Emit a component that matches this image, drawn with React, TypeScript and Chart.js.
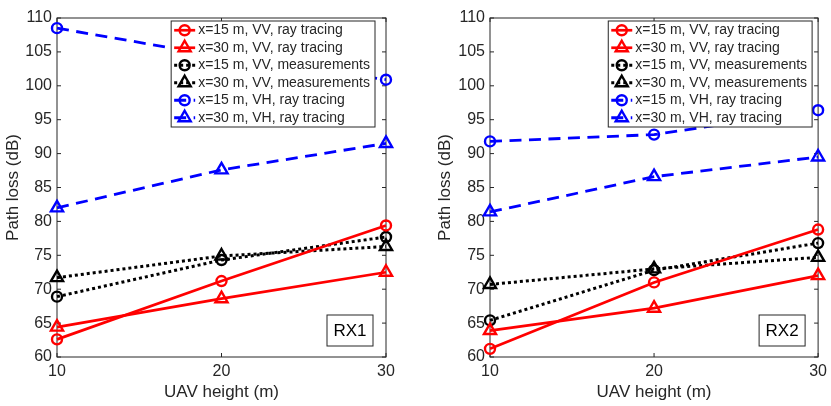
import React, { useEffect, useRef } from 'react';
import { Chart, registerables } from 'chart.js';

Chart.register(...registerables);

// UAV heights (m)
const heights = [10, 20, 30];

const seriesLabels = [
  'x=15 m, VV, ray tracing',
  'x=30 m, VV, ray tracing',
  'x=15 m, VV, measurements',
  'x=30 m, VV, measurements',
  'x=15 m, VH, ray tracing',
  'x=30 m, VH, ray tracing',
];

// RX1 path loss (dB)
const rx1Vv15Rt = [62.6, 71.2, 79.4];
const rx1Vv30Rt = [64.4, 68.6, 72.5];
const rx1Vv15Meas = [68.9, 74.3, 77.7];
const rx1Vv30Meas = [71.7, 74.9, 76.3];
const rx1Vh15Rt = [108.5, 104.3, 100.9];
const rx1Vh30Rt = [82.0, 87.6, 91.5];

// RX2 path loss (dB)
const rx2Vv15Rt = [61.2, 71.0, 78.8];
const rx2Vv30Rt = [63.9, 67.2, 72.0];
const rx2Vv15Meas = [65.4, 72.8, 76.8];
const rx2Vv30Meas = [70.7, 73.0, 74.7];
const rx2Vh15Rt = [91.8, 92.8, 96.4];
const rx2Vh30Rt = [81.4, 86.6, 89.5];

const styles = [
  { color: '#ff0000', dash: [] as number[], width: 2.7, shape: 'circle' },
  { color: '#ff0000', dash: [] as number[], width: 2.7, shape: 'triangle' },
  { color: '#000000', dash: [3, 3], width: 3, shape: 'circle' },
  { color: '#000000', dash: [3, 3], width: 3, shape: 'triangle' },
  { color: '#0000ff', dash: [12, 7.5], width: 2.8, shape: 'circle' },
  { color: '#0000ff', dash: [12, 7.5], width: 2.8, shape: 'triangle' },
];

const FONT = '"Liberation Sans", Arial, Helvetica, sans-serif';
const AXIS = '#262626';
const CIRCLE_R = 5;
const TRI_R = 7;

function drawMarker(ctx: CanvasRenderingContext2D, shape: string, x: number, y: number) {
  ctx.beginPath();
  if (shape === 'circle') {
    ctx.arc(x, y, CIRCLE_R, 0, Math.PI * 2);
  } else {
    const r = TRI_R;
    ctx.moveTo(x, y - r);
    ctx.lineTo(x + r * Math.sin((2 * Math.PI) / 3), y + r / 2);
    ctx.lineTo(x - r * Math.sin((2 * Math.PI) / 3), y + r / 2);
    ctx.closePath();
  }
  ctx.stroke();
}

function Panel({ values, tag, padLeft, yWidth, padRight, legendRight }: any) {
  const canvasRef = useRef<HTMLCanvasElement | null>(null);

  useEffect(() => {
    if (!canvasRef.current) return;

    const framePlugin = {
      id: 'frame',
      beforeDatasetsDraw(chart: any) {
        const { ctx, chartArea: a, scales } = chart;
        ctx.save();
        ctx.strokeStyle = AXIS;
        ctx.lineWidth = 1;
        ctx.strokeRect(a.left, a.top, a.right - a.left, a.bottom - a.top);
        const tl = 4;
        ctx.beginPath();
        scales.x.ticks.forEach((t: any) => {
          const px = scales.x.getPixelForValue(t.value);
          ctx.moveTo(px, a.bottom);
          ctx.lineTo(px, a.bottom - tl);
          ctx.moveTo(px, a.top);
          ctx.lineTo(px, a.top + tl);
        });
        scales.y.ticks.forEach((t: any) => {
          const py = scales.y.getPixelForValue(t.value);
          ctx.moveTo(a.left, py);
          ctx.lineTo(a.left + tl, py);
          ctx.moveTo(a.right, py);
          ctx.lineTo(a.right - tl, py);
        });
        ctx.stroke();
        ctx.restore();
      },
    };

    const legendPlugin = {
      id: 'legendBox',
      afterDatasetsDraw(chart: any) {
        const { ctx, chartArea: a } = chart;
        ctx.save();
        ctx.font = `14px ${FONT}`;
        const textW = Math.max(...seriesLabels.map((l) => ctx.measureText(l).width));
        const rowH = 17.5;
        const boxW = 27 + textW + 5;
        const boxH = rowH * seriesLabels.length + 1;
        const left = a.right - legendRight - boxW;
        const top = a.top + 3;
        ctx.fillStyle = '#ffffff';
        ctx.fillRect(left, top, boxW, boxH);
        ctx.strokeStyle = AXIS;
        ctx.lineWidth = 1;
        ctx.strokeRect(left, top, boxW, boxH);
        seriesLabels.forEach((label, i) => {
          const s = styles[i];
          const cy = top + rowH * i + rowH / 2 + 0.5;
          ctx.strokeStyle = s.color;
          ctx.lineWidth = s.width;
          ctx.setLineDash(s.dash);
          ctx.beginPath();
          ctx.moveTo(left + 3, cy);
          ctx.lineTo(left + 24, cy);
          ctx.stroke();
          ctx.setLineDash([]);
          ctx.lineWidth = 2.4;
          drawMarker(ctx, s.shape, left + 13.5, cy);
          ctx.fillStyle = AXIS;
          ctx.textBaseline = 'middle';
          ctx.textAlign = 'left';
          ctx.fillText(label, left + 27, cy);
        });
        // RX tag box
        ctx.font = `17px ${FONT}`;
        const tw = 46;
        const th = 31;
        const tx = a.right - 13 - tw;
        const ty = a.bottom - 11 - th;
        ctx.fillStyle = '#ffffff';
        ctx.fillRect(tx, ty, tw, th);
        ctx.strokeStyle = AXIS;
        ctx.lineWidth = 1;
        ctx.strokeRect(tx, ty, tw, th);
        ctx.fillStyle = '#000000';
        ctx.textAlign = 'center';
        ctx.textBaseline = 'middle';
        ctx.fillText(tag, tx + tw / 2, ty + th / 2 + 1);
        ctx.restore();
      },
    };

    const chart = new Chart(canvasRef.current, {
      type: 'line',
      data: {
        datasets: values.map((v: number[], i: number) => ({
          label: seriesLabels[i],
          data: heights.map((h, j) => ({ x: h, y: v[j] })),
          borderColor: styles[i].color,
          borderWidth: styles[i].width,
          borderDash: styles[i].dash,
          pointStyle: styles[i].shape,
          pointRadius: styles[i].shape === 'circle' ? CIRCLE_R : TRI_R,
          pointBorderWidth: 2.4,
          pointBorderColor: styles[i].color,
          pointBackgroundColor: 'rgba(0,0,0,0)',
          tension: 0,
          fill: false,
          clip: false as any,
        })),
      },
      options: {
        responsive: false,
        animation: false,
        devicePixelRatio: 1,
        layout: { padding: { left: padLeft, right: padRight, top: 18, bottom: 0 } },
        plugins: { legend: { display: false }, tooltip: { enabled: false } },
        scales: {
          x: {
            type: 'linear',
            min: 10,
            max: 30,
            grid: { display: false, drawTicks: false },
            border: { display: false },
            ticks: { stepSize: 10, padding: 5, color: AXIS, font: { family: FONT, size: 16 } },
            title: {
              display: true,
              text: 'UAV height (m)',
              color: AXIS,
              font: { family: FONT, size: 17 },
              padding: { top: 0, bottom: 3 },
            },
            afterFit: (s: any) => {
              s.height = 49;
            },
          },
          y: {
            min: 60,
            max: 110,
            grid: { display: false, drawTicks: false },
            border: { display: false },
            ticks: { stepSize: 5, padding: 5, color: AXIS, font: { family: FONT, size: 16 } },
            title: {
              display: true,
              text: 'Path loss (dB)',
              color: AXIS,
              font: { family: FONT, size: 17 },
              padding: { top: 3, bottom: 0 },
            },
            afterFit: (s: any) => {
              s.width = yWidth;
            },
          },
        },
      },
      plugins: [framePlugin, legendPlugin],
    });

    return () => chart.destroy();
  }, []);

  return <canvas ref={canvasRef} width={padLeft + yWidth + 329 + padRight} height={406} style={{ display: 'block' }} />;
}

export default function App() {
  return (
    <div style={{ position: 'absolute', left: 0, top: 0, width: 831, height: 406, display: 'flex', background: '#fff' }}>
      <Panel
        values={[rx1Vv15Rt, rx1Vv30Rt, rx1Vv15Meas, rx1Vv30Meas, rx1Vh15Rt, rx1Vh30Rt]}
        tag="RX1"
        padLeft={0}
        yWidth={57}
        padRight={29}
        legendRight={11}
      />
      <Panel
        values={[rx2Vv15Rt, rx2Vv30Rt, rx2Vv15Meas, rx2Vv30Meas, rx2Vh15Rt, rx2Vh30Rt]}
        tag="RX2"
        padLeft={17}
        yWidth={58}
        padRight={13}
        legendRight={6}
      />
    </div>
  );
}
